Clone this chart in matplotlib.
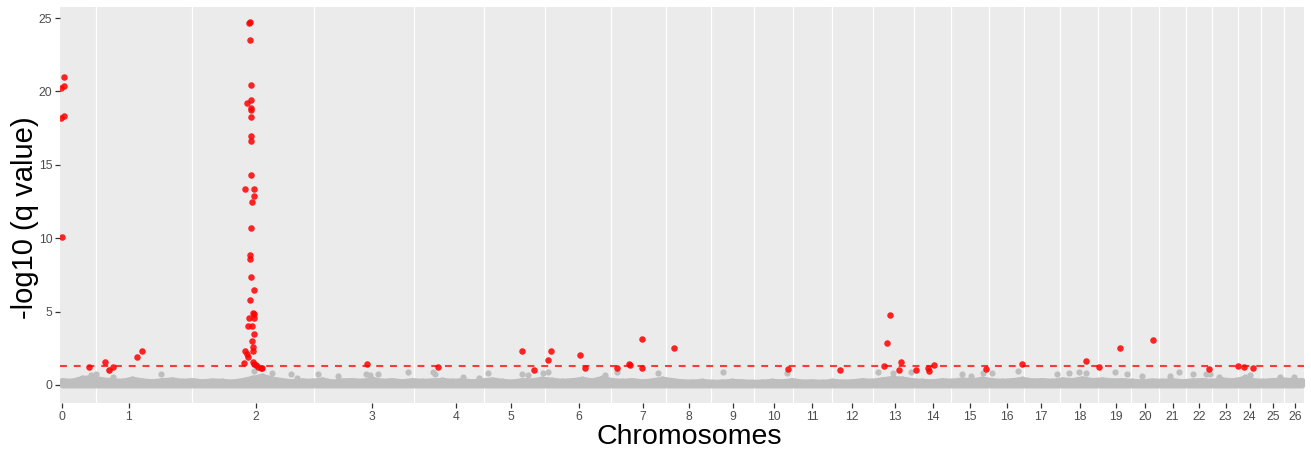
import numpy as np
import matplotlib
matplotlib.use("Agg")
import matplotlib.pyplot as plt

plt.rcParams['font.family'] = ['Liberation Sans', 'DejaVu Sans']

# chromosome label positions (cumulative position, arbitrary units)
chrom_labels = [str(i) for i in range(27)]
chrom_centers = [0, 67, 193.5, 310, 394, 449, 517, 580.5, 627, 671, 712, 750, 790,
                 832.5, 870.5, 908, 945, 979, 1017.5, 1054, 1083, 1110.5, 1137,
                 1163.5, 1187.5, 1211, 1233]

# significant hits (red)
sig_x = [2, 2, -1, 2, -1, 0,
         27, 43, 47, 51, 75, 80,
         187.7, 187.2, 187.7, 189, 184.7, 189, 189, 189, 188.7, 189, 188.7, 188.7,
         183.3, 192, 192, 189.7, 188.7, 188, 188, 189, 192, 188, 190.7, 192,
         187.3, 191.7, 186.3, 189.7, 192, 189.7, 191.3, 191, 183, 184.7, 186.3,
         182, 191.3, 194, 196.3, 199, 192.3, 200.3,
         304.7, 376.3,
         460.3, 472.3, 486.3, 488.7, 518.3, 522.7, 554.7, 568, 567, 580, 580, 612.3,
         726.3, 778, 824.7, 822.3, 828, 839, 837.3, 854,
         865.7, 867, 872, 923.7, 959.7, 1024, 1037.3, 1058,
         1091.3, 1146.7, 1176.3, 1182.3, 1190.7]
sig_y = [21.0, 20.4, 20.2, 18.3, 18.2, 10.1,
         1.25, 1.55, 1.02, 1.2, 1.93, 2.34,
         24.7, 24.65, 23.48, 20.44, 19.23, 19.43, 18.85, 18.71, 18.23, 16.96, 16.64, 14.3,
         13.35, 13.33, 12.9, 12.44, 10.67, 8.86, 8.56, 7.34, 6.45, 5.79, 4.93, 4.82,
         4.54, 4.54, 4.04, 4.04, 3.47, 3.02, 2.57, 2.32, 2.34, 2.09, 1.93,
         1.52, 1.59, 1.36, 1.25, 1.18, 1.41, 1.14,
         1.43, 1.2,
         2.32, 1.02, 1.70, 2.3, 2.07, 1.16, 1.13, 1.36, 1.4, 3.15, 1.13, 2.54,
         1.07, 1.02, 2.84, 1.29, 4.77, 1.55, 1.02, 1.02,
         1.18, 0.97, 1.38, 1.09, 1.45, 1.63, 1.25, 2.54,
         3.04, 1.07, 1.29, 1.2, 1.13]

# non-significant points sticking out above the dense band (grey)
ns_x = [29, 33.7, 47.3, 51.3, 99, 192.3, 209.7, 229, 235, 255.7, 276.3, 304, 308,
        315.7, 345.7, 371.3, 372.7, 401, 417.3, 426.3, 460.3, 465.7, 481.3, 486.3,
        543, 554.7, 595.7, 660.7, 724.7, 816.3, 831.3, 848.7, 900.3, 909, 921.3,
        930.3, 956.3, 994.7, 1007, 1017, 1023.7, 1053, 1064.7, 1080.3, 1108,
        1117.3, 1130.7, 1143.7, 1148, 1157.3, 1183, 1188, 1218, 1232.3]
ns_y = [0.68, 0.73, 1.02, 0.57, 0.73, 0.95, 0.8, 0.73, 0.5, 0.73, 0.61, 0.75, 0.7,
        0.73, 0.91, 0.91, 0.75, 0.57, 0.45, 0.8, 0.75, 0.68, 0.84, 0.91,
        0.68, 0.91, 0.84, 0.91, 0.8, 0.91, 0.8, 0.91, 0.73, 0.61, 0.8,
        0.8, 0.97, 0.73, 0.8, 0.91, 0.8, 0.91, 0.73, 0.61, 0.61,
        0.91, 0.73, 0.73, 0.73, 0.57, 0.57, 0.68, 0.57, 0.57]

# top of the dense grey band of non-significant points (every 10 units)
band_x = list(range(0, 1250, 10))
band_top = [0.3, 0.25, 0.45, 0.5, 0.35, 0.3, 0.25, 0.4, 0.28, 0.22,
            0.3, 0.35, 0.25, 0.3, 0.22, 0.28, 0.25, 0.2, 0.3, 0.45,
            0.6, 0.4, 0.3, 0.22, 0.28, 0.25, 0.35, 0.2, 0.28, 0.3,
            0.25, 0.38, 0.25, 0.3, 0.22, 0.3, 0.25, 0.28, 0.32, 0.25,
            0.3, 0.22, 0.28, 0.35, 0.25, 0.2, 0.3, 0.28, 0.4, 0.32,
            0.25, 0.3, 0.38, 0.28, 0.45, 0.3, 0.25, 0.3, 0.22, 0.28,
            0.4, 0.3, 0.22, 0.2, 0.25, 0.18, 0.2, 0.25, 0.22, 0.18,
            0.2, 0.25, 0.22, 0.3, 0.2, 0.22, 0.18, 0.25, 0.2, 0.22,
            0.3, 0.25, 0.35, 0.45, 0.4, 0.3, 0.25, 0.22, 0.3, 0.25,
            0.35, 0.28, 0.4, 0.3, 0.25, 0.3, 0.38, 0.28, 0.3, 0.25,
            0.35, 0.3, 0.42, 0.3, 0.35, 0.28, 0.3, 0.25, 0.22, 0.28,
            0.25, 0.3, 0.22, 0.28, 0.3, 0.25, 0.35, 0.28, 0.4, 0.3,
            0.25, 0.3, 0.35, 0.3, 0.3]

threshold = -np.log10(0.05)

fig = plt.figure(figsize=(13.11, 4.54), dpi=100)
ax = fig.add_axes([60 / 1311, 51 / 454, 1244 / 1311, 396 / 454])
ax.set_facecolor('#EBEBEB')

grey = '#BEBEBE'
ax.fill_between(band_x, 0, band_top, color=grey, edgecolor=grey, linewidth=4.3, zorder=2)
ax.scatter(band_x, band_top, s=20, color=grey, linewidths=0, zorder=2)
ax.scatter(ns_x, ns_y, s=20, color=grey, linewidths=0, zorder=2)

ax.axhline(threshold, color='red', alpha=0.75, linewidth=1.5, dashes=(3.3, 3.3), zorder=3)
ax.scatter(sig_x, sig_y, s=22, color='#FF0000', alpha=0.85, linewidths=0, zorder=4)

ax.set_xlim(-2, 1242)
ax.set_ylim(-1.23, 25.75)
ax.set_xticks(chrom_centers)
ax.set_xticklabels(chrom_labels)
mids = [(a + b) / 2 for a, b in zip(chrom_centers[:-1], chrom_centers[1:])]
ax.set_xticks(mids, minor=True)
ax.tick_params(axis='x', which='minor', length=0)
ax.grid(True, which='minor', axis='x', color='white', linewidth=0.9)
ax.set_yticks([0, 5, 10, 15, 20, 25])
ax.tick_params(axis='both', which='major', length=3.5, width=0.9, color='#333333',
               labelcolor='#4D4D4D', labelsize=8.8, pad=2)
for s in ax.spines.values():
    s.set_visible(False)
ax.set_axisbelow(True)

ax.set_xlabel('Chromosomes', fontsize=20.5)
ax.xaxis.set_label_coords(0.506, -0.053)
ax.set_ylabel('-log10 (q value)', fontsize=21)
ax.yaxis.set_label_coords(-0.017, 0.467)

fig.savefig('out.png', dpi=100)
